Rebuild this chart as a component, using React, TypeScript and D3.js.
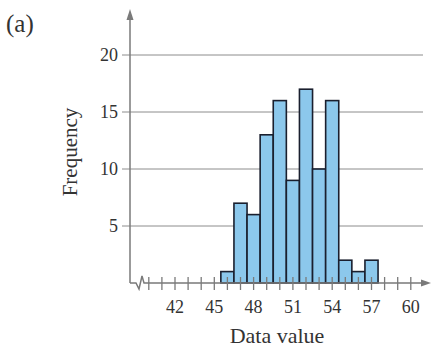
import React from "react";
import * as d3 from "d3";

const dataValues = [46, 47, 48, 49, 50, 51, 52, 53, 54, 55, 56, 57];
const frequencies = [1, 7, 6, 13, 16, 9, 17, 10, 16, 2, 1, 2];
const xTickLabels = [42, 45, 48, 51, 54, 57, 60];
const xMinorTicks = d3.range(40, 61);
const yTickLabels = [5, 10, 15, 20];

const W = 434;
const H = 350;
const FONT = "'Liberation Serif', 'DejaVu Serif', serif";

export default function App() {
  const x = d3.scaleLinear().domain([42, 60]).range([175, 410.8]);
  const y = d3.scaleLinear().domain([0, 20]).range([283, 55]);
  const axisX = 130;
  const axisColor = "#7a7a7a";
  const y0 = y(0);

  const zig = `M${axisX},${y0} L${axisX + 6},${y0} L${axisX + 9},${y0 + 6} L${axisX + 12},${y0 - 7} L${axisX + 14},${y0} L${424},${y0}`;

  return (
    <svg width={W} height={H} style={{ position: "absolute", left: 0, top: 0, background: "#fff" }}>
      <text x={6} y={32} fontFamily={FONT} fontSize={25} fill="#333">(a)</text>

      {/* gridlines */}
      {yTickLabels.map((t) => (
        <line key={"g" + t} x1={axisX - 8} x2={423} y1={y(t)} y2={y(t)} stroke="#8c8c8c" strokeWidth={1} />
      ))}

      {/* bars */}
      {dataValues.map((v, i) => (
        <rect
          key={"b" + v}
          x={x(v - 0.5)}
          y={y(frequencies[i])}
          width={x(v + 0.5) - x(v - 0.5)}
          height={y0 - y(frequencies[i])}
          fill="#8cc8ec"
          stroke="#1a1f2e"
          strokeWidth={1.6}
        />
      ))}

      {/* y axis */}
      <line x1={axisX} x2={axisX} y1={y0} y2={18} stroke={axisColor} strokeWidth={1.5} />
      <path d={`M${axisX - 3.5},${20} L${axisX},${9} L${axisX + 3.5},${20} Z`} fill={axisColor} />

      {/* x axis with break */}
      <path d={zig} fill="none" stroke={axisColor} strokeWidth={1.5} />
      <path d={`M${421},${y0 - 3.5} L${431},${y0} L${421},${y0 + 3.5} Z`} fill={axisColor} />

      {xMinorTicks.map((t) => (
        <line key={"t" + t} x1={x(t)} x2={x(t)} y1={y0 - 6} y2={y0 + 7} stroke={axisColor} strokeWidth={1.3} />
      ))}

      {xTickLabels.map((t) => (
        <text key={"xl" + t} x={x(t)} y={313} textAnchor="middle" fontFamily={FONT} fontSize={18} fill="#333">
          {t}
        </text>
      ))}

      {yTickLabels.map((t) => (
        <text key={"yl" + t} x={118} y={y(t) + 6} textAnchor="end" fontFamily={FONT} fontSize={18} fill="#333">
          {t}
        </text>
      ))}

      <text x={277} y={343} textAnchor="middle" fontFamily={FONT} fontSize={22} fill="#333">
        Data value
      </text>
      <text
        transform={`translate(77,152) rotate(-90)`}
        textAnchor="middle"
        fontFamily={FONT}
        fontSize={21}
        fill="#333"
      >
        Frequency
      </text>
    </svg>
  );
}
